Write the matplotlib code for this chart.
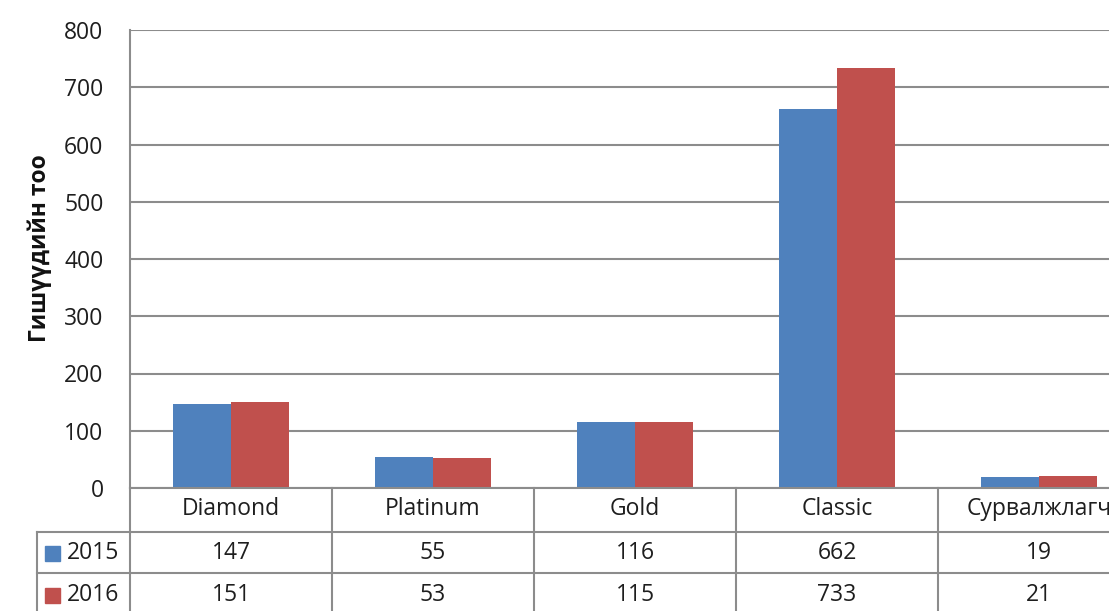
import matplotlib
matplotlib.use("Agg")
import matplotlib.pyplot as plt
from matplotlib.patches import Rectangle

categories = ["Diamond", "Platinum", "Gold", "Classic", "Сурвалжлагч"]
series_names = ["2015", "2016"]
values_2015 = [147, 55, 116, 662, 19]
values_2016 = [151, 53, 115, 733, 21]
yticks = [0, 100, 200, 300, 400, 500, 600, 700, 800]
ylabel = "Гишүүдийн тоо"

colors = ["#4F81BD", "#C0504D"]
FONT = ["Open Sans", "DejaVu Sans"]
plt.rcParams['font.family'] = FONT
TXT = "#1e1e1e"
FS = 16.5

W, H = 1109, 611
fig = plt.figure(figsize=(W / 100, H / 100), dpi=100)

left_px, right_px, top_px, zero_px = 130, 1109, 30, 488
col_w = 202.0
axw = right_px - left_px
ax = fig.add_axes([left_px / W, (H - zero_px) / H, axw / W, (zero_px - top_px) / H])
xmax = -0.5 + axw / col_w
ax.set_xlim(-0.5, xmax)
ax.set_ylim(0, 800)

bw = 1 / 3.5
xs = list(range(len(categories)))
ax.bar([x - bw / 2 for x in xs], values_2015, width=bw, color=colors[0], zorder=3)
ax.bar([x + bw / 2 for x in xs], values_2016, width=bw, color=colors[1], zorder=3)

ax.set_yticks(yticks)
ax.set_yticklabels([str(t) for t in yticks], fontsize=FS, color=TXT)
ax.tick_params(axis='y', length=0, pad=19)
ax.set_xticks([])
ax.grid(axis='y', color="#8C8C8C", linewidth=1.5, zorder=0)
for s in ["top", "right", "bottom"]:
    ax.spines[s].set_visible(False)
ax.spines["left"].set_color("#8C8C8C")
ax.spines["left"].set_linewidth(1.5)
ax.set_ylabel(ylabel, fontsize=16.5, fontweight="bold", color="#111111")
ax.yaxis.set_label_coords((52 - left_px) / axw, 0.524)

# data table drawn below the axis
tab = fig.add_axes([left_px / W, 0, axw / W, (H - zero_px) / H])
tab.set_xlim(-0.5, xmax)
tab.set_ylim(H - zero_px, 0)
tab.axis("off")
lc = "#8C8C8C"
lw = 1.5
x_left = (37 - left_px) / col_w - 0.5
row_y = [44, 85]
tab.plot([-0.5, xmax], [0, 0], color=lc, lw=lw, clip_on=False)
for ry in row_y:
    tab.plot([x_left, xmax], [ry, ry], color=lc, lw=lw, clip_on=False)
for i in range(len(categories) + 1):
    xb = i - 0.5
    if xb <= xmax:
        tab.plot([xb, xb], [0, 140], color=lc, lw=lw, clip_on=False)
tab.plot([x_left, x_left], [row_y[0], 140], color=lc, lw=lw, clip_on=False)

for i, c in enumerate(categories):
    tab.text(i, 21, c, ha="center", va="center", fontsize=FS, color=TXT, clip_on=False)
for r, vals in enumerate([values_2015, values_2016]):
    yc = 65 + 42 * r
    for i, v in enumerate(vals):
        tab.text(i, yc, str(v), ha="center", va="center", fontsize=FS, color=TXT, clip_on=False)
    key_x = (45 - left_px) / col_w - 0.5
    key_w = 15 / col_w
    tab.add_patch(Rectangle((key_x, yc - 7.5), key_w, 15, color=colors[r], clip_on=False))
    tab.text((67 - left_px) / col_w - 0.5, yc, series_names[r], ha="left", va="center",
             fontsize=FS, color=TXT, clip_on=False)

fig.savefig("out.png", dpi=100)
